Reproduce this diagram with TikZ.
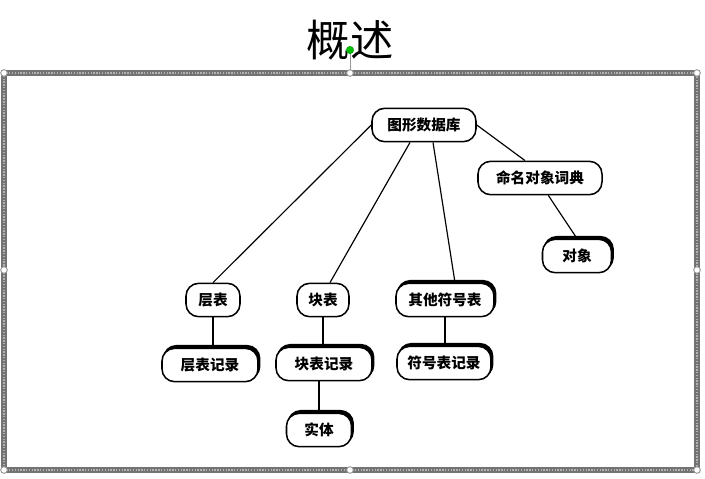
\documentclass[tikz,border=0pt]{standalone}
\usepackage{fontspec}
\newfontfamily\cjk{Noto Sans CJK SC}
\usetikzlibrary{positioning, shadows}

\begin{document}
\begin{tikzpicture}[
        x=0.03cm, y=-0.03cm,
        tbox/.style={draw, line width=1.3pt, rounded corners=0.38cm, fill=white, minimum height=1.0cm, inner xsep=0.15cm, font=\cjk\bfseries\fontsize{12.5}{14}\selectfont},
        heavy/.style={tbox, copy shadow={shadow xshift=0.05cm, shadow yshift=0.08cm, fill=black, draw=black}},
        link/.style={line width=1pt},
        handle/.style={draw=gray!80, fill=white, line width=0.8pt}
    ]
        \useasboundingbox (0,0) rectangle (705,478);

        % 标题
        \node (title) at (350,40) {\cjk\fontsize{37}{40}\selectfont 概述};

        % 选中框
        \draw[black!55, line width=0.2cm] (4,73) rectangle (697,470);
        \draw[black!30, line width=1.2pt, dash pattern=on 1.2pt off 1.2pt] (4,73) rectangle (697,470);
        \draw[gray!80, line width=0.8pt] (350,50) -- (350,73);
        \foreach \x/\y in {4/73, 350/73, 697/73, 4/270, 697/270, 4/470, 350/470, 697/470}
            \draw[handle] (\x,\y) circle (0.1cm);
        \draw[green!60!black, fill=green!75!black] (350,50) circle (0.11cm);

        \node[tbox, minimum width=3.12cm] (db) at (424,125) {图形数据库};
        \node[tbox, minimum width=3.72cm] (dict) at (540,178) {命名对象词典};
        \node[heavy, minimum width=2.07cm] (obj) at (577,256) {对象};

        \node[tbox, minimum width=1.62cm] (layer) at (213,300) {层表};
        \node[tbox, minimum width=1.56cm] (block) at (323,300) {块表};
        \node[heavy, minimum width=2.94cm] (other) at (445,300) {其他符号表};

        \node[heavy, minimum width=2.88cm] (layerrec) at (210,365) {层表记录};
        \node[heavy, minimum width=2.88cm] (blockrec) at (324,364) {块表记录};
        \node[heavy, minimum width=2.82cm] (symrec) at (444,363) {符号表记录};
        \node[heavy, minimum width=1.95cm] (entity) at (319,430) {实体};

        \draw[link] (db.west) -- (layer.north);
        \draw[link] ([xshift=-0.42cm]db.south) -- ([xshift=0.21cm]block.north);
        \draw[link] ([xshift=0.27cm]db.south) -- ([xshift=0.3cm]other.north);
        \draw[link] (db.east) -- ([xshift=-0.45cm]dict.north);
        \draw[link] ([xshift=0.25cm]dict.south) -- (obj.north);

        \draw[link] (layer.south) -- (layer.south |- layerrec.north);
        \draw[link] (block.south) -- (block.south |- blockrec.north);
        \draw[link] (other.south) -- (other.south |- symrec.north);
        \draw[link] (blockrec.south -| entity.north) -- (entity.north);
    \end{tikzpicture}
\end{document}
